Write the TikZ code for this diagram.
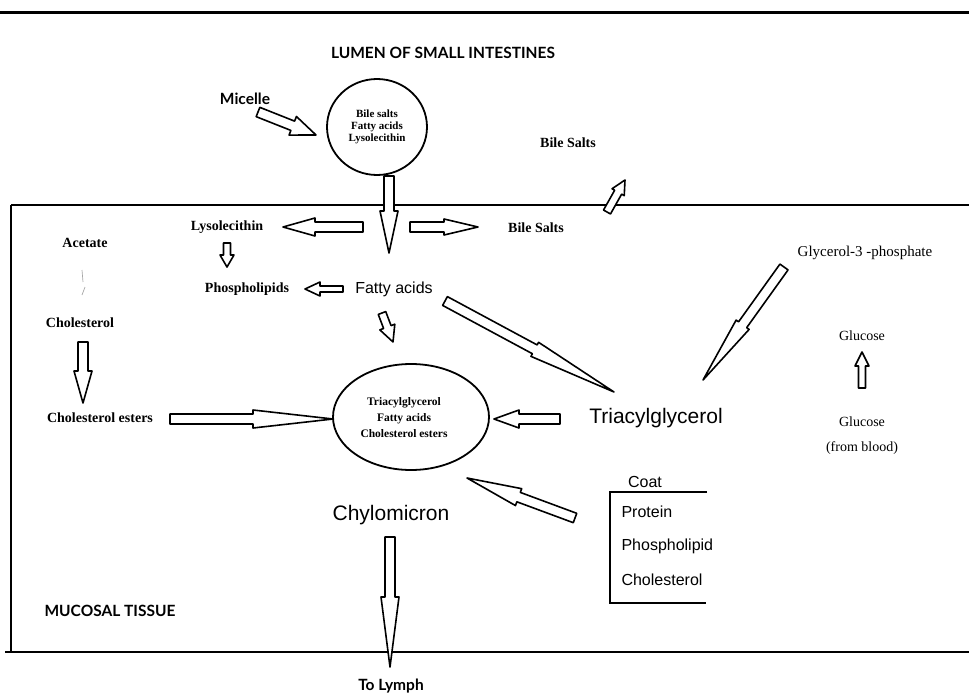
\documentclass[tikz,border=0pt]{standalone}
\usepackage{fontspec}
\setmainfont{Liberation Serif}
\setsansfont{Liberation Sans}
\newfontfamily\optfont{Lato}
\usetikzlibrary{shapes.geometric,calc}
\tikzset{
  serb/.style={font=\fontsize{14}{14}\selectfont\bfseries},
  ser/.style={font=\fontsize{14}{14}\selectfont},
  hel/.style={font=\fontsize{16}{16}\selectfont\sffamily},
  helbig/.style={font=\fontsize{21}{21}\selectfont\sffamily},
  opt/.style={font=\fontsize{15.5}{15.5}\selectfont\optfont\bfseries},
  intext/.style={font=\fontsize{11}{12}\selectfont\bfseries, align=center},
  ell/.style={ellipse, draw, line width=1.8pt, inner sep=0pt},
  barr/.style={draw, line width=1.6pt, fill=white, line join=round},
  rule/.style={line width=2.2pt},
}
\newcommand\blockarr[6][]{%
  \path let \p1=($(#3)-(#2)$) in \pgfextra{%
    \pgfmathsetmacro\myarrang{atan2(\y1,\x1)}%
    \pgfmathsetmacro\myarrlen{veclen(\x1,\y1)}%
    \xdef\garrang{\myarrang}\xdef\garrlen{\myarrlen}};
  \draw[barr,#1,shift={(#2)},rotate=\garrang]
    (0pt,-#4pt) -- ({\garrlen pt-#6pt},-#4pt) -- ({\garrlen pt-#6pt},-#5pt)
    -- (\garrlen pt,0pt) -- ({\garrlen pt-#6pt},#5pt) -- ({\garrlen pt-#6pt},#4pt)
    -- (0pt,#4pt) -- cycle;
}
\begin{document}
\begin{tikzpicture}[x=1pt,y=-1pt]
\useasboundingbox (0,0) rectangle (969,696);
% frame lines
\coordinate (tl) at (0,12); \coordinate (tr) at (969,12);
\coordinate (ml) at (11,205); \coordinate (mr) at (969,205);
\coordinate (bl) at (5,652); \coordinate (br) at (969,652);
\coordinate (vl) at (11,652);
\draw[line width=3pt] (tl) -- (tr);
\draw[rule] (ml) -- (mr);
\draw[rule] (bl) -- (br);
\draw[rule] (ml) -- (vl);

% texts
\node[opt] (lumen) at (443,53) {LUMEN OF SMALL INTESTINES};
\node[opt] (micelle) at (245,99) {Micelle};
\node[ell, minimum width=100, minimum height=96] (mic) at (377,127) {};
\node[intext] (mictext) at (377,127) {Bile salts\\Fatty acids\\Lysolecithin};
\node[serb] (bstop) at (568,143) {Bile Salts};
\node[serb] (lyso) at (227,227) {Lysolecithin};
\node[serb] (bsmid) at (536,228) {Bile Salts};
\node[serb] (acetate) at (85,243) {Acetate};
\node[serb] (phos) at (247,289) {Phospholipids};
\node[hel] (fatty) at (394,289) {Fatty acids};
\node[ser, font=\fontsize{15}{15}\selectfont] (glyc) at (865,253) {Glycerol-3 -phosphate};
\node[serb] (chol) at (80,323) {Cholesterol};
\node[ser] (glu1) at (862,336) {Glucose};
\node[serb] (cholest) at (100,418) {Cholesterol esters};
\node[helbig] (tag) at (656,418) {Triacylglycerol};
\node[ser] (glu2) at (862,422) {Glucose};
\node[ser] (blood) at (862,448) {(from blood)};
\node[ell, minimum width=156, minimum height=106] (chy) at (411,417) {};
\node[intext, font=\fontsize{11.5}{16}\selectfont\bfseries] (chytext) at (404,418) {Triacylglycerol\\Fatty acids\\Cholesterol esters};
\node[hel] (coat) at (645,482) {Coat};
\node[hel, anchor=west] (protein) at (618,512) {Protein};
\node[hel, anchor=west] (phl) at (618,546) {Phospholipid};
\node[hel, anchor=west] (cholc) at (618,580) {Cholesterol};
\node[helbig] (chylo) at (391,515) {Chylomicron};
\node[opt] (mucosal) at (110,611) {MUCOSAL TISSUE};
\node[opt] (lymph) at (391,686) {To Lymph};

% coat bracket
\coordinate (c1) at (707,492); \coordinate (c2) at (610,492);
\coordinate (c3) at (610,603); \coordinate (c4) at (706,603);
\draw[line width=1.8pt] (c1) -- (c2) -- (c3) -- (c4);

% faint acetate mark
\coordinate (f1) at (82,270); \coordinate (f2) at (83,282);
\coordinate (f3) at (85,287); \coordinate (f4) at (82,295);
\draw[gray!70, line width=0.7pt] (f1) -- (f2) (f3) -- (f4);

% arrow end points
\coordinate (a1s) at (258,112);  \coordinate (a1e) at (316,135);
\coordinate (a2s) at (389,176);  \coordinate (a2e) at (389,253);
\coordinate (a3s) at (363,227);  \coordinate (a3e) at (283,227);
\coordinate (a4s) at (410,227);  \coordinate (a4e) at (478,227);
\coordinate (a5s) at (607,212);  \coordinate (a5e) at (625,180);
\coordinate (a6s) at (227,243);  \coordinate (a6e) at (227,267);
\coordinate (a7s) at (343,289);  \coordinate (a7e) at (305,289);
\coordinate (a8s) at (382,313);  \coordinate (a8e) at (393,342);
\coordinate (a9s) at (445,301);  \coordinate (a9e) at (614,392);
\coordinate (a10s) at (784,267); \coordinate (a10e) at (703,380);
\coordinate (a11s) at (862,388); \coordinate (a11e) at (862,352);
\coordinate (a12s) at (83,342);  \coordinate (a12e) at (83,403);
\coordinate (a13s) at (170,419); \coordinate (a13e) at (333,419);
\coordinate (a14s) at (560,419); \coordinate (a14e) at (494,419);
\coordinate (a15s) at (575,518); \coordinate (a15e) at (467,478);
\coordinate (a16s) at (390,537); \coordinate (a16e) at (390,667);

\blockarr{a1s}{a1e}{5}{10}{25}
\blockarr{a2s}{a2e}{5}{9}{42}
\blockarr{a3s}{a3e}{5}{9}{32}
\blockarr{a4s}{a4e}{5}{8}{34}
\blockarr{a5s}{a5e}{4}{7}{14}
\blockarr{a6s}{a6e}{3.5}{7}{12}
\blockarr{a7s}{a7e}{3}{7}{15}
\blockarr{a8s}{a8e}{4}{8}{16}
\blockarr{a9s}{a9e}{5}{8}{90}
\blockarr{a10s}{a10e}{5}{8}{68}
\blockarr{a11s}{a11e}{3.5}{7}{14}
\blockarr{a12s}{a12e}{5}{9}{32}
\blockarr{a13s}{a13e}{5}{9}{80}
\blockarr{a14s}{a14e}{5}{9}{25}
\blockarr{a15s}{a15e}{5}{9}{55}
\blockarr{a16s}{a16e}{5}{9}{70}
\end{tikzpicture}
\end{document}
